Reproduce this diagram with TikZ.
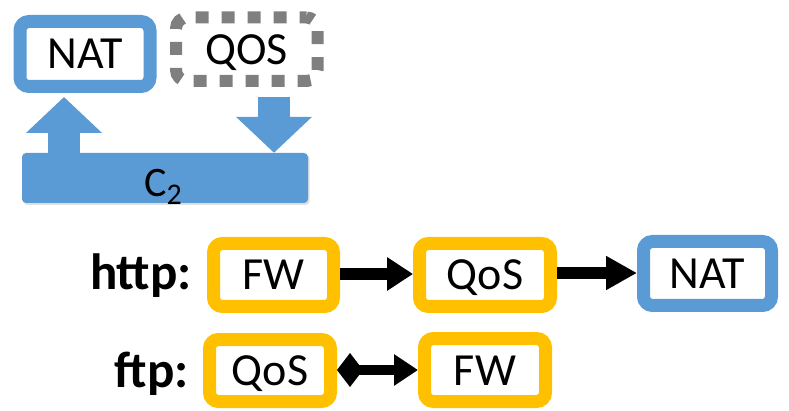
\documentclass[tikz,border=0pt]{standalone}
\usepackage{fontspec}
\setmainfont{Carlito}
\usetikzlibrary{arrows.meta,shadows}
\definecolor{nfblue}{HTML}{5B9BD5}
\definecolor{nfgold}{HTML}{FFC000}
\definecolor{nfgray}{HTML}{7F7F7F}
\begin{document}
\begin{tikzpicture}[x=1pt,y=-1pt,
  boxfont/.style={font=\fontsize{46}{50}\selectfont, text height=30pt, text depth=0pt},
  nfbox/.style={draw, line width=13pt, rounded corners=9pt, fill=white, inner sep=0pt, boxfont},
  bluebox/.style={nfbox, draw=nfblue},
  goldbox/.style={nfbox, draw=nfgold},
  dashbox/.style={draw=nfgray, line width=12pt, dash pattern=on 13pt off 13pt, dash phase=6pt,
    rounded corners=11pt, inner sep=0pt, boxfont},
  chainlbl/.style={font=\fontsize{51}{55}\selectfont\bfseries},
  blockarrow/.style={draw=nfblue, line width=32pt, -{Triangle[length=36pt,width=74pt,fill=nfblue]}},
  flowarrow/.style={line width=12pt, -{Triangle[length=#1,width=32pt]}},
  pairarrow/.style={line width=10pt, {Diamond[length=26pt,width=34pt]}-{Triangle[length=24pt,width=30pt]}}
]
\useasboundingbox (0,0) rectangle (789,411);

% composed chain C2 with its two functions
\node[bluebox, minimum width=130pt, minimum height=65pt] (nat1) at (85,54) {NAT};
\node[dashbox, minimum width=141.5pt, minimum height=63.5pt] (qos1) at (246.75,49.25) {QOS};
\node[fill=nfblue, rounded corners=4pt, minimum width=286pt, minimum height=50pt, inner sep=0pt,
  drop shadow={opacity=0.25, shadow xshift=1.5pt, shadow yshift=-2pt}] (c2) at (165,178) {};
\node[anchor=base west, inner sep=0pt, font=\fontsize{42}{46}\selectfont] (c2lbl) at (144,197)
  {C\raisebox{-8pt}{\fontsize{30}{32}\selectfont 2}};

\coordinate (upx) at (64,0);
\coordinate (dnx) at (274,0);
\draw[blockarrow, shorten >=4pt] (c2.north -| upx) -- (nat1.south -| upx);
\draw[blockarrow, shorten <=10pt] (qos1.south -| dnx) -- (c2.north -| dnx);

% http chain
\node[chainlbl, anchor=base east, inner sep=0pt] (http) at (192,290) {http:};
\node[goldbox, minimum width=120pt, minimum height=63pt] (fw1) at (273.5,275) {FW};
\node[goldbox, minimum width=131pt, minimum height=63pt] (qos2) at (485,275) {QoS};
\node[bluebox, minimum width=128pt, minimum height=64pt] (nat2) at (707.5,273.5) {NAT};
\draw[flowarrow=26pt] (fw1.east |- 0,274) -- (qos2.west |- 0,274);
\draw[flowarrow=31pt] (qos2.east |- 0,273) -- (nat2.west |- 0,273);

% ftp chain
\node[chainlbl, anchor=base east, inner sep=0pt] (ftp) at (189,387) {ftp:};
\node[goldbox, minimum width=121pt, minimum height=62pt] (qos3) at (270,370.5) {QoS};
\node[goldbox, minimum width=121pt, minimum height=63pt] (fw2) at (485,370) {FW};
\draw[pairarrow] (qos3.east |- 0,370) -- (fw2.west |- 0,370);
\end{tikzpicture}
\end{document}
